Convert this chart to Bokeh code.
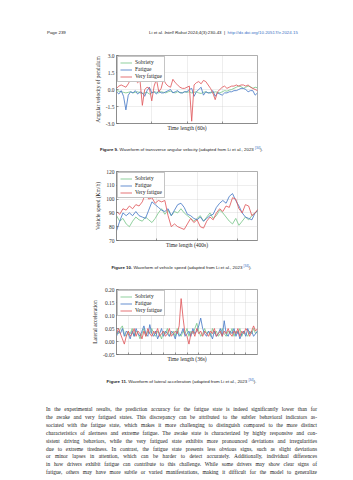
from bokeh.plotting import figure
from bokeh.layouts import column
from bokeh.models import Div, Legend, LegendItem, FixedTicker, Range1d
from bokeh.embed import file_html
from bokeh.resources import INLINE

SERIES = ["Sobriety", "Fatigue", "Very fatigue"]
COLORS = ["#7cc78c", "#4a7cc7", "#e05a5d"]

# ---- Figure 9: transverse angular velocity (60 s, 1 s steps)
ang_sobriety = [-0.1, -0.15, -0.2, -0.25, -0.3, -0.25, -0.2, -0.3, -0.25, -0.2, -0.3, -0.35, -0.3, -0.25, -0.4,
                -0.3, -0.2, -0.25, -0.3, -0.2, -0.25, -0.3, -0.2, -0.15, -0.25, -0.3, -0.2, -0.25, -0.3, -0.2,
                -0.25, -0.2, -0.3, -0.25, -0.2, -0.3, -0.35, -0.25, -0.2, -0.3, -0.25, -0.3, -0.2, -0.25, -0.3,
                -0.2, -0.1, -0.15, -0.05, 0.0, 0.1, 0.2, 0.3, 0.25, 0.1, 0.2, 0.3, 0.25, 0.1, 0.2, 0.15]
ang_fatigue = [-0.2, -0.4, -0.1, -0.6, -1.8, -0.5, -0.2, -0.3, -0.1, -0.4, -0.2, -0.3, -0.6, -0.1, 0.2,
               -0.3, -0.2, -0.4, -0.1, -0.3, -0.3, -0.2, -0.1, 0.0, -0.3, -0.2, -0.1, -0.3, -0.3, -0.2,
               -0.2, 0.0, 0.1, -0.6, -0.2, 0.0, 0.2, -0.5, -0.2, -0.3, -0.3, -0.1, -0.6, -0.3, -0.4,
               -0.5, -0.3, -0.3, -0.2, -0.2, -0.1, -0.1, 0.0, 0.1, 0.1, 0.0, -0.2, -0.1, -0.1, -0.5, -0.3]
ang_very = [0.1, 0.3, 0.4, 0.3, 0.2, 0.5, 0.9, 1.0, 0.8, 0.6, 0.8, -1.4, 0.0, 0.2, 0.1,
            -1.0, 0.3, 0.9, -0.2, 0.1, 0.9, 0.5, 0.3, 0.2, 0.9, 0.6, 0.4, 0.2, 0.1, 0.1,
            0.2, 0.3, -2.8, 0.4, 0.6, 0.7, 0.5, 0.8, 0.7, 0.4, 0.1, -0.3, -0.9, -0.2, 0.0,
            0.2, 0.3, 0.1, 0.2, 0.3, 0.3, 0.4, 0.3, 0.4, 0.4, 0.3, 0.4, 0.2, 0.1, 0.0, -0.1]
ang_step = 1
ang_yticks = [-3.0, -1.5, 0.0, 1.5, 3.0]
ang_ylabels = ["-3.0", "-1.5", "0.0", "1.5", "3.0"]
ang_xgrid = [15, 30, 45]

# ---- Figure 10: vehicle speed (8 s steps)
spd_sobriety = [88, 84, 86, 82, 80, 84, 87, 85, 84, 87, 85, 83, 86, 90, 93, 89, 92, 88, 91, 90, 93, 90, 88,
                86, 84, 86, 88, 84, 87, 90, 86, 88, 92, 90, 87, 84, 82, 86, 81, 84, 87, 85, 88, 90, 92]
spd_fatigue = [77, 84, 90, 88, 90, 88, 91, 88, 87, 86, 92, 98, 96, 94, 92, 91, 93, 88, 92, 96, 97, 94, 89,
               88, 86, 85, 87, 84, 86, 88, 89, 94, 97, 99, 97, 102, 104, 99, 95, 90, 87, 86, 85, 90, 92]
spd_very = [91, 89, 93, 92, 95, 93, 96, 95, 98, 104, 100, 101, 97, 99, 98, 99, 88, 80, 82, 80, 79, 78, 82,
            86, 83, 85, 80, 79, 84, 87, 85, 90, 93, 91, 95, 94, 101, 100, 93, 90, 96, 95, 88, 90, 93]
spd_step = 8
spd_yticks = [70, 80, 90, 100, 110, 120]
spd_ylabels = ["70", "80", "90", "100", "110", "120"]
spd_xgrid = [100, 200, 300]

# ---- Figure 11: lateral acceleration (0.5 s steps)
lat_sobriety = [0.04, 0.03, 0.05, 0.06, 0.03, 0.02, 0.04, 0.03, 0.05, 0.02, 0.04, 0.03, 0.01, 0.03, 0.05,
                0.02, 0.04, 0.03, 0.05, 0.03, 0.02, 0.04, 0.03, 0.01, 0.04, 0.03, 0.05, 0.02, 0.03, 0.04,
                0.02, 0.05, 0.03, 0.02, 0.04, 0.03, 0.05, 0.02, 0.04, 0.03, 0.05, 0.07, 0.04, 0.02, 0.03,
                0.05, 0.03, 0.04, 0.02, 0.05, 0.03, 0.04, 0.02, 0.03, 0.05, 0.03, 0.02, 0.04, 0.03, 0.05,
                0.02, 0.04, 0.03, 0.05, 0.02, 0.04, 0.03, 0.02, 0.04, 0.03, 0.05, 0.03, 0.04]
lat_fatigue = [0.02, 0.04, 0.03, 0.05, 0.02, 0.04, 0.03, 0.01, 0.04, 0.02, 0.05, 0.03, 0.02, 0.04, 0.06,
               0.03, 0.02, 0.065, 0.03, 0.02, 0.04, 0.01, 0.03, 0.05, 0.02, 0.04, 0.03, 0.02, 0.04, 0.03,
               0.01, 0.04, 0.02, 0.03, 0.05, 0.02, 0.03, 0.04, 0.02, 0.05, 0.03, 0.04, 0.06, 0.09, 0.05,
               0.03, 0.02, 0.04, 0.03, 0.01, 0.04, 0.02, 0.03, 0.05, 0.02, 0.08, 0.03, 0.02, 0.04, 0.03,
               0.05, 0.02, 0.04, 0.01, 0.03, 0.04, 0.02, 0.05, 0.03, 0.04, 0.02, 0.03, 0.04]
lat_very = [0.03, 0.05, 0.03, 0.01, -0.01, 0.02, 0.04, 0.02, 0.03, 0.05, 0.02, 0.04, 0.03, 0.01, 0.04,
            0.02, 0.05, 0.03, 0.02, 0.04, 0.03, 0.05, 0.02, 0.03, 0.04, 0.02, 0.03, 0.05, 0.02, 0.03,
            0.04, 0.03, 0.06, 0.165, 0.09, 0.03, 0.02, -0.01, 0.03, 0.04, 0.02, 0.05, 0.03, 0.04, 0.02,
            0.04, 0.03, 0.02, 0.04, 0.03, 0.05, 0.02, 0.03, 0.04, 0.02, 0.04, 0.03, 0.05, 0.03, 0.02,
            0.04, 0.03, 0.05, 0.02, 0.04, 0.03, 0.05, 0.04, 0.02, 0.04, 0.06, 0.04, 0.05]
lat_step = 0.5
lat_yticks = [-0.05, 0.0, 0.05, 0.10, 0.15, 0.20]
lat_ylabels = ["-0.05", "0.00", "0.05", "0.10", "0.15", "0.20"]
lat_xgrid = [3, 6, 9, 12, 15, 18, 21, 24, 27, 30, 33]

SERIF = "Liberation Serif"
SANS = "Liberation Sans"
GRID = "#c8c8c8"
FRAME = "#8c8c8c"


def make_chart(series, step, xr, yr, xgrid, yticks, ylabels, ylabel, xlabel,
               height, top, bottom, left):
    p = figure(width=353, height=height, x_range=Range1d(*xr), y_range=Range1d(*yr),
               output_backend="svg", toolbar_location=None,
               min_border_left=left, min_border_right=96, min_border_top=top,
               min_border_bottom=bottom)
    p.background_fill_color = "white"
    p.border_fill_color = "white"
    p.outline_line_color = FRAME
    p.outline_line_width = 0.7
    renderers = []
    for ys, c in zip(series, COLORS):
        xs = [i * step for i in range(len(ys))]
        renderers.append(p.line(xs, ys, line_color=c, line_width=0.85))

    # x axis: tick marks only (no tick labels in the reference)
    p.xaxis.ticker = FixedTicker(ticks=xgrid)
    p.xaxis.major_label_text_font_size = "1px"
    p.xaxis.major_label_text_color = None
    p.xaxis.major_label_standoff = 0
    p.xaxis.major_tick_in = 2
    p.xaxis.major_tick_out = 0
    p.xaxis.minor_tick_line_color = None
    p.xaxis.axis_line_color = FRAME
    p.xaxis.major_tick_line_color = "#555555"
    p.xaxis.major_tick_line_width = 0.6
    p.xaxis.axis_label = xlabel
    p.xaxis.axis_label_text_font = SERIF
    p.xaxis.axis_label_text_font_style = "normal"
    p.xaxis.axis_label_text_font_size = "5.5px"
    p.xaxis.axis_label_text_color = "#222222"
    p.xaxis.axis_label_standoff = 1

    p.yaxis.ticker = FixedTicker(ticks=yticks)
    p.yaxis.major_label_overrides = {t: s for t, s in zip(yticks, ylabels)}
    p.yaxis.major_label_text_font = SERIF
    p.yaxis.major_label_text_font_size = "5.5px"
    p.yaxis.major_label_text_color = "#333333"
    p.yaxis.major_label_standoff = 2
    p.yaxis.major_tick_in = 2
    p.yaxis.major_tick_out = 0
    p.yaxis.minor_tick_line_color = None
    p.yaxis.axis_line_color = FRAME
    p.yaxis.major_tick_line_color = "#555555"
    p.yaxis.major_tick_line_width = 0.6
    p.yaxis.axis_label = ylabel
    p.yaxis.axis_label_text_font = SERIF
    p.yaxis.axis_label_text_font_style = "normal"
    p.yaxis.axis_label_text_font_size = "5.5px"
    p.yaxis.axis_label_text_color = "#222222"
    p.yaxis.axis_label_standoff = 2

    p.xgrid.grid_line_color = GRID
    p.xgrid.grid_line_dash = "1 1"
    p.xgrid.grid_line_width = 0.6
    p.ygrid.grid_line_color = GRID
    p.ygrid.grid_line_dash = "1 1"
    p.ygrid.grid_line_width = 0.6

    legend = Legend(items=[LegendItem(label=s, renderers=[r]) for s, r in zip(SERIES, renderers)],
                    location="top_left")
    legend.label_text_font = SERIF
    legend.label_text_font_size = "5.5px"
    legend.label_text_color = "#222222"
    legend.label_height = 5
    legend.label_standoff = 3
    legend.glyph_width = 12
    legend.glyph_height = 5
    legend.spacing = 1
    legend.padding = 2
    legend.margin = 1
    legend.border_line_color = FRAME
    legend.border_line_width = 0.6
    legend.background_fill_alpha = 1.0
    p.add_layout(legend)
    return p


fig9 = make_chart([ang_sobriety, ang_fatigue, ang_very], ang_step, (0, 60), (-3.0, 3.0),
                  ang_xgrid, ang_yticks, ang_ylabels, "Angular velocity of pendulum",
                  "Time length (60s)", height=86, top=7, bottom=11, left=113)
fig10 = make_chart([spd_sobriety, spd_fatigue, spd_very], spd_step, (0, 350), (70, 120),
                   spd_xgrid, spd_yticks, spd_ylabels, "Vehicle speed (Km/h)",
                   "Time length (400s)", height=88, top=7, bottom=12, left=113)
fig11 = make_chart([lat_sobriety, lat_fatigue, lat_very], lat_step, (0, 36), (-0.05, 0.20),
                   lat_xgrid, lat_yticks, lat_ylabels, "Lateral acceleration",
                   "Time length (36s)", height=85, top=8, bottom=12, left=116)

LINK = "#3a6fc4"

header = Div(width=353, height=38, text=(
    f'<div style="margin:0;padding:0;padding-top:25px;font-family:\'{SANS}\';'
    'font-size:4.4px;line-height:6px;color:#222;white-space:nowrap;">'
    '<span style="display:inline-block;width:42px;"></span>'
    '<span style="display:inline-block;width:102px;">Page 239</span>'
    'Li et al. <i>Intell Robot</i> 2024;4(3):230-43&nbsp;&nbsp;|&nbsp;&nbsp;'
    f'<span style="color:{LINK}">http://dx.doi.org/10.20517/ir.2024.15</span></div>'))


def caption(num, body, height, pad):
    return Div(width=353, height=height, text=(
        f'<div style="width:353px;margin:0;padding:0;padding-top:{pad}px;text-align:center;'
        f'font-family:\'{SANS}\';font-size:4.4px;line-height:6px;color:#222;white-space:nowrap;">'
        f'<b>Figure {num}.</b> {body} (adapted from Li et al., 2023 '
        f'<sup style="color:{LINK};font-size:3.2px;line-height:0;">[34]</sup>).</div>'))


cap9 = caption(9, "Waveform of transverse angular velocity", 20, 6)
cap10 = caption(10, "Waveform of vehicle speed", 19, 6)
cap11 = caption(11, "Waveform of lateral acceleration", 17, 5)

para_lines = [
    "In the experimental results, the prediction accuracy for the fatigue state is indeed significantly lower than for",
    "the awake and very fatigued states. This discrepancy can be attributed to the subtler behavioral indicators as-",
    "sociated with the fatigue state, which makes it more challenging to distinguish compared to the more distinct",
    "characteristics of alertness and extreme fatigue. The awake state is characterized by highly responsive and con-",
    "sistent driving behaviors, while the very fatigued state exhibits more pronounced deviations and irregularities",
    "due to extreme tiredness. In contrast, the fatigue state presents less obvious signs, such as slight deviations",
    "or minor lapses in attention, which can be harder to detect accurately. Additionally, individual differences",
    "in how drivers exhibit fatigue can contribute to this challenge. While some drivers may show clear signs of",
    "fatigue, others may have more subtle or varied manifestations, making it difficult for the model to generalize",
]
para_html = "".join(
    f'<div style="margin:0 0 0 41px;width:271px;text-align:justify;text-align-last:justify;'
    f'white-space:nowrap;">{ln}</div>'
    for ln in para_lines)
para = Div(width=353, height=127, text=(
    f'<div style="margin:0;padding:0;padding-top:8px;font-family:\'{SERIF}\';'
    f'font-size:5.4px;line-height:7.9px;color:#1a1a1a;">{para_html}</div>'))

page = column(header, fig9, cap9, fig10, cap10, fig11, cap11, para, spacing=0)

open("out.html", "w").write(file_html(page, INLINE))
